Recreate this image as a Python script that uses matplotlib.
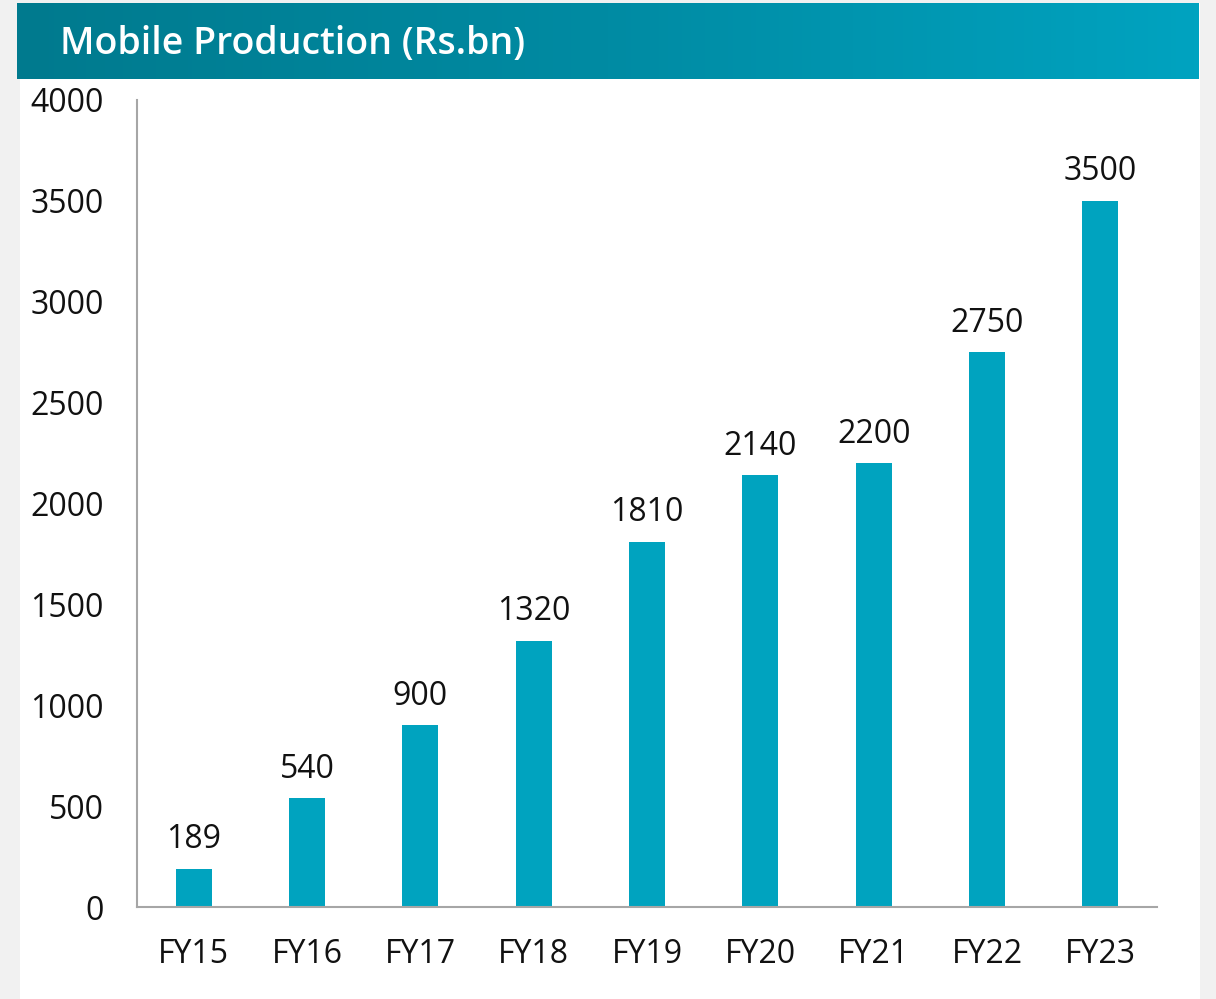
import numpy as np
import matplotlib.pyplot as plt
from matplotlib.patches import Rectangle
from matplotlib.colors import LinearSegmentedColormap

categories = ["FY15", "FY16", "FY17", "FY18", "FY19", "FY20", "FY21", "FY22", "FY23"]
values = [189, 540, 900, 1320, 1810, 2140, 2200, 2750, 3500]
title = "Mobile Production (Rs.bn)"

W, H = 1216, 999
plt.rcParams['font.family'] = ['Open Sans', 'DejaVu Sans']

fig = plt.figure(figsize=(W / 100, H / 100), dpi=100, facecolor='#f1f1f1')

# white card (behind everything)
fig.patches.append(Rectangle((20 / W, 0), 1180 / W, 996 / H, transform=fig.transFigure,
                             facecolor='white', edgecolor='none', zorder=-10))

# header banner with gradient
hax = fig.add_axes([17 / W, (H - 79) / H, 1182 / W, 76 / H])
grad = np.linspace(0, 1, 256).reshape(1, -1)
cmap = LinearSegmentedColormap.from_list('hdr', ['#007a8e', '#008ba3', '#00a3c0'])
hax.imshow(grad, aspect='auto', cmap=cmap, extent=[0, 1, 0, 1])
hax.set_axis_off()
hax.text(43 / 1182, 0.46, title, color='white', fontsize=27, fontweight='semibold',
         va='center', ha='left', transform=hax.transAxes)

# main chart
ax = fig.add_axes([137 / W, (H - 907) / H, 1020 / W, 807 / H])
x = np.arange(len(categories))
ax.bar(x, values, width=0.32, color='#00a3bf', zorder=2)
for xi, v in zip(x, values):
    ax.annotate(str(v), (xi, v), xytext=(0, 9), textcoords='offset points',
                ha='center', va='bottom', fontsize=23, color='#111111')

ax.set_xlim(-0.5, len(categories) - 0.5)
ax.set_ylim(0, 4000)
ax.set_yticks(np.arange(0, 4001, 500))
ax.set_xticks(x)
ax.set_xticklabels(categories)
ax.tick_params(axis='y', length=0, pad=24, labelsize=23, labelcolor='#111111')
ax.tick_params(axis='x', length=0, pad=22, labelsize=23, labelcolor='#111111')
for s in ['top', 'right']:
    ax.spines[s].set_visible(False)
for s in ['left', 'bottom']:
    ax.spines[s].set_color('#a6a6a6')
    ax.spines[s].set_linewidth(1.5)
ax.set_facecolor('none')

fig.savefig('out.png', dpi=100, facecolor=fig.get_facecolor())
